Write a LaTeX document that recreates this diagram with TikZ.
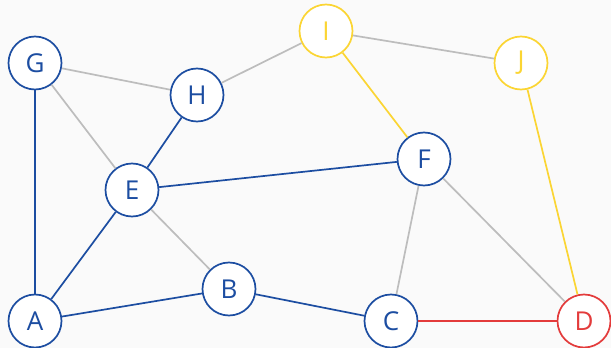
\documentclass[tikz,border=0pt]{standalone}
\usepackage{fontspec}
\setmainfont{Open Sans}
\definecolor{bgc}{HTML}{FAFAFA}
\definecolor{blu}{HTML}{1C4DA1}
\definecolor{yel}{HTML}{FBD533}
\definecolor{rd}{HTML}{E33B3B}
\definecolor{gry}{HTML}{BDBDBD}
\begin{document}
\begin{tikzpicture}[x=1pt,y=-1pt,
  vtx/.style={circle,draw=#1,text=#1,fill=white,line width=1.7pt,minimum size=53pt,inner sep=0pt,font=\fontsize{26}{26}\selectfont},
  ed/.style={draw=#1,line width=1.7pt}]
\fill[bgc] (0,0) rectangle (611,348);
\useasboundingbox (0,0) rectangle (611,348);
\node[vtx=blu] (G) at (35,63) {G};
\node[vtx=blu] (H) at (197,95) {H};
\node[vtx=yel] (I) at (326,31) {I};
\node[vtx=yel] (J) at (521,63) {J};
\node[vtx=blu] (E) at (132,190) {E};
\node[vtx=blu] (F) at (424,159) {F};
\node[vtx=blu] (B) at (229,289) {B};
\node[vtx=blu] (A) at (35,321) {A};
\node[vtx=blu] (C) at (391,321) {C};
\node[vtx=rd] (D) at (584,321) {D};
\path[ed=gry] (G) -- (H);
\path[ed=gry] (G) -- (E);
\path[ed=gry] (H) -- (I);
\path[ed=gry] (I) -- (J);
\path[ed=gry] (E) -- (B);
\path[ed=gry] (F) -- (C);
\path[ed=gry] (F) -- (D);
\path[ed=yel] (I) -- (F);
\path[ed=yel] (J) -- (D);
\path[ed=rd] (C) -- (D);
\path[ed=blu] (G) -- (A);
\path[ed=blu] (H) -- (E);
\path[ed=blu] (E) -- (A);
\path[ed=blu] (E) -- (F);
\path[ed=blu] (A) -- (B);
\path[ed=blu] (B) -- (C);
\end{tikzpicture}
\end{document}
